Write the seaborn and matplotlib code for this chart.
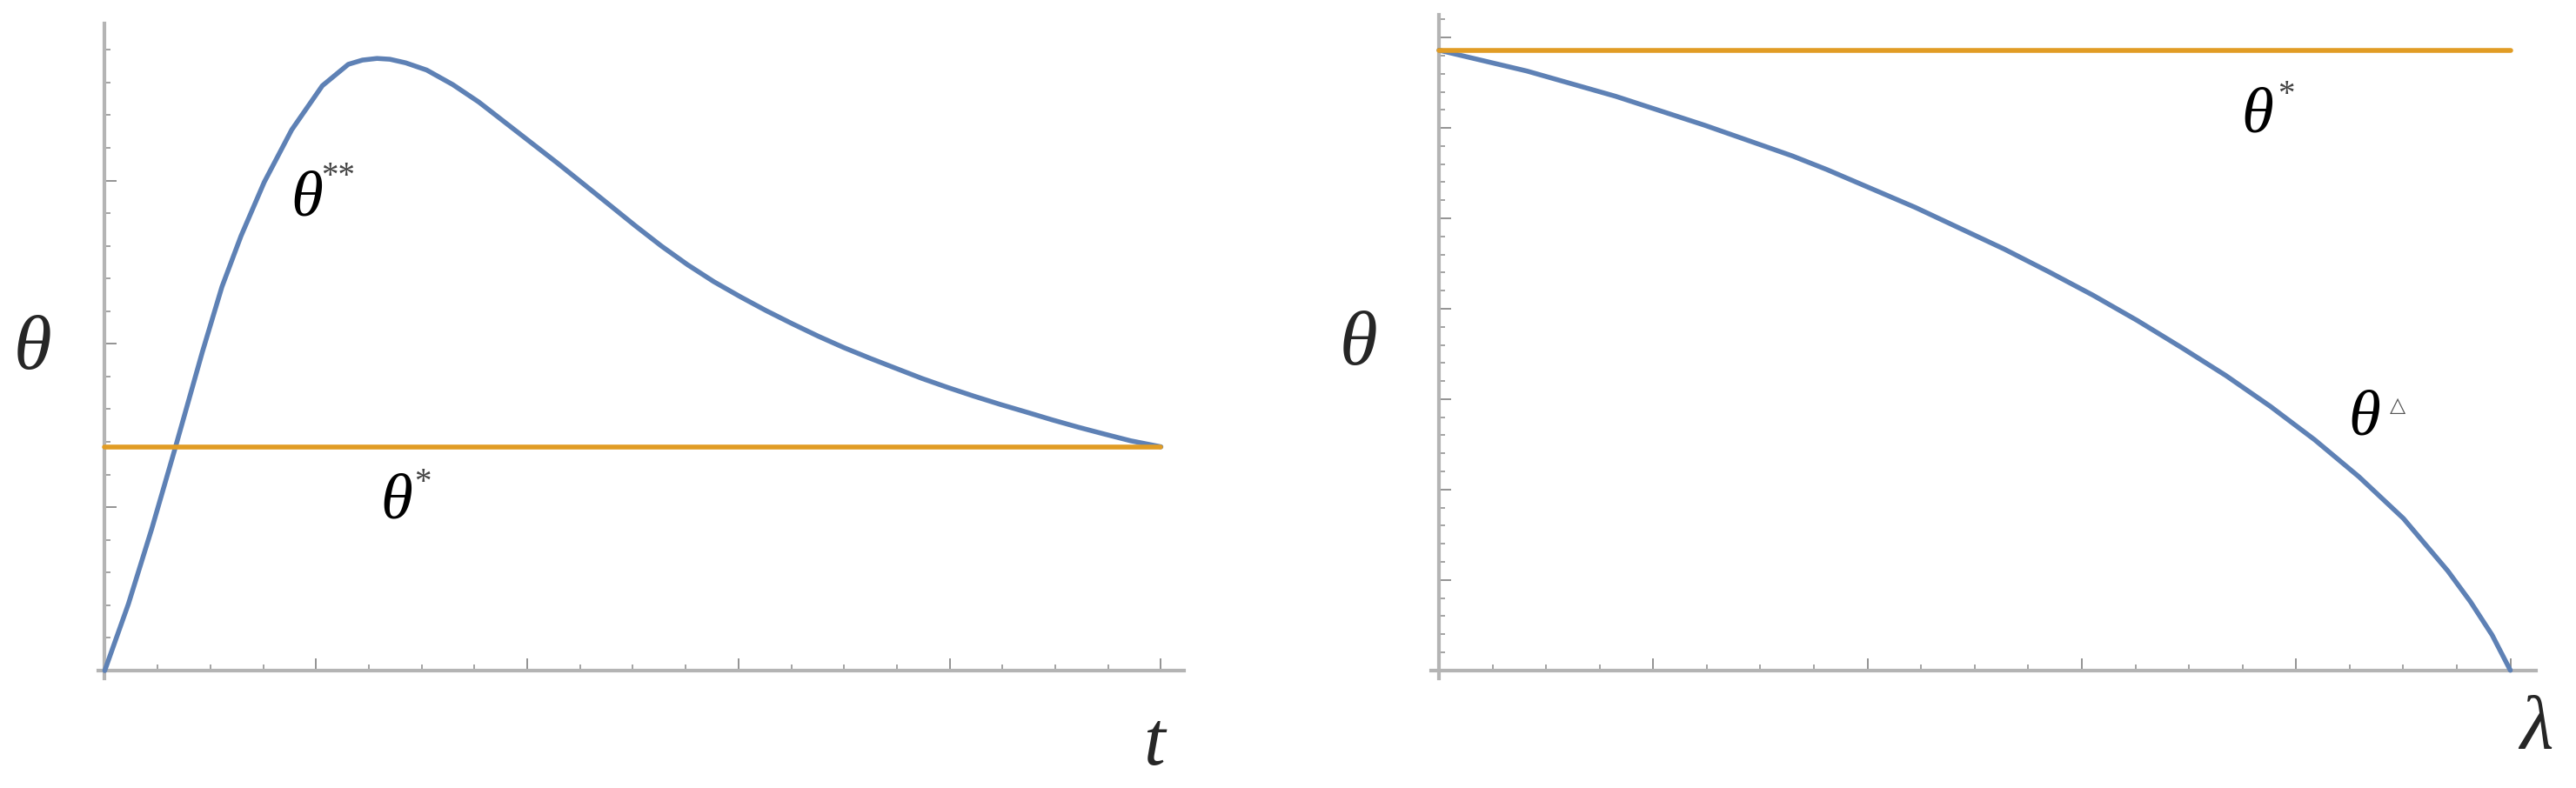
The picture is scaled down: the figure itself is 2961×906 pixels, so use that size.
import matplotlib
matplotlib.use("Agg")
import matplotlib.pyplot as plt
import seaborn as sns
from matplotlib.ticker import MultipleLocator, NullFormatter

sns.set_style("white")
plt.rcParams["font.family"] = ["Liberation Serif", "DejaVu Sans"]

# left panel: theta** over t, with the flat theta* level
t_vals = [0, 0.0225, 0.0446, 0.0666, 0.0924, 0.111, 0.129, 0.151, 0.177, 0.206,
          0.2306, 0.244, 0.2578, 0.270, 0.2850, 0.3048, 0.3295, 0.3542, 0.3789,
          0.4036, 0.4283, 0.4530, 0.4778, 0.5025, 0.5272, 0.5519, 0.5766,
          0.6013, 0.6260, 0.6507, 0.6755, 0.7002, 0.7249, 0.7488, 0.7735,
          0.7982, 0.8229, 0.8476, 0.8723, 0.8970, 0.9217, 0.9464, 0.9712, 1.0]
theta_ss = [0, 0.41, 0.87, 1.36, 1.95, 2.35, 2.66, 2.99, 3.31, 3.58,
            3.711, 3.737, 3.747, 3.742, 3.720, 3.676, 3.587, 3.480, 3.356,
            3.232, 3.108, 2.980, 2.851, 2.722, 2.598, 2.484, 2.381,
            2.290, 2.204, 2.124, 2.047, 1.976, 1.911, 1.851, 1.789,
            1.733, 1.680, 1.630, 1.583, 1.535, 1.490, 1.448, 1.407, 1.37]
t_star = [0, 1.0]
theta_star_left = [1.37, 1.37]

# right panel: theta-triangle over lambda, with the flat theta* level
lam_vals = [0, 0.082, 0.165, 0.248, 0.330, 0.362, 0.4034, 0.4448, 0.4862,
            0.5276, 0.5690, 0.6104, 0.6518, 0.6932, 0.7346, 0.7760, 0.8174,
            0.8588, 0.9002, 0.9416, 0.9627, 0.9830, 1.0]
theta_tri = [6.86, 6.63, 6.35, 6.03, 5.69, 5.54, 5.33, 5.12, 4.89,
             4.66, 4.41, 4.15, 3.87, 3.57, 3.26, 2.92, 2.55,
             2.14, 1.68, 1.10, 0.76, 0.39, 0]
lam_star = [0, 1.0]
theta_star_right = [6.86, 6.86]

blue = "#5E81B5"
orange = "#E19C24"
axis_col = "#b4b4b4"
tick_col = "#8a8a8a"

fig = plt.figure(figsize=(29.61, 9.06), dpi=100)
ax1 = fig.add_axes([0.0382, 0.139, 0.4215, 0.831])
ax2 = fig.add_axes([0.5557, 0.139, 0.4288, 0.842])

sns.lineplot(x=t_vals, y=theta_ss, ax=ax1, color=blue, lw=4, sort=False, zorder=3)
sns.lineplot(x=t_star, y=theta_star_left, ax=ax1, color=orange, lw=4, zorder=4)
sns.lineplot(x=lam_vals, y=theta_tri, ax=ax2, color=blue, lw=4, sort=False, zorder=3)
sns.lineplot(x=lam_star, y=theta_star_right, ax=ax2, color=orange, lw=4, zorder=4)

ax1.set_xlim(-0.006, 1.022)
ax1.set_ylim(-0.048, 3.96)
ax2.set_xlim(-0.007, 1.024)
ax2.set_ylim(-0.09, 7.25)

for ax in (ax1, ax2):
    ax.set_facecolor("white")
    for s in ("top", "right"):
        ax.spines[s].set_visible(False)
    for s in ("left", "bottom"):
        ax.spines[s].set_position(("data", 0))
        ax.spines[s].set_color(axis_col)
        ax.spines[s].set_linewidth(3)
        ax.spines[s].set_zorder(1)
    ax.xaxis.set_major_locator(MultipleLocator(0.2))
    ax.xaxis.set_minor_locator(MultipleLocator(0.05))
    ax.yaxis.set_major_locator(MultipleLocator(1))
    ax.yaxis.set_minor_locator(MultipleLocator(0.2))
    ax.xaxis.set_major_formatter(NullFormatter())
    ax.yaxis.set_major_formatter(NullFormatter())
    ax.tick_params(which="major", direction="in", length=10, width=1.3,
                   color=tick_col, bottom=True, left=True)
    ax.tick_params(which="minor", direction="in", length=5, width=1.1,
                   color=tick_col, bottom=True, left=True)
    ax.set_xlabel("")
    ax.set_ylabel("")
    ax.grid(False)

# curve labels
lab = dict(fontsize=54, ha="center", va="center", color="black",
           style="italic", family=["Liberation Serif"])
sup = dict(fontsize=28, ha="center", va="center", color="#444444",
           family=["Liberation Serif"])
ax1.text(0.191, 2.88, "θ", **lab)
ax1.text(0.221, 3.02, "**", **sup)
ax1.text(0.276, 1.03, "θ", **lab)
ax1.text(0.301, 1.15, "*", **sup)
ax2.text(0.764, 6.13, "θ", **lab)
ax2.text(0.791, 6.36, "*", **sup)
ax2.text(0.864, 2.78, "θ", **lab)
ax2.text(0.895, 2.93, "\u25b3", fontsize=17, ha="center", va="center",
         color="#555555", family=["DejaVu Sans"])

# axis labels
axl = dict(fontsize=64, ha="center", va="center", style="italic",
           family=["Liberation Serif"])
fig.text(0.0128, 0.556, "θ", **axl)
fig.text(0.448, 0.054, "t", **axl)
fig.text(0.5275, 0.561, "θ", **axl)
fig.text(0.9845, 0.075, "λ", **axl)

fig.savefig("out.png", dpi=100, facecolor="white")
